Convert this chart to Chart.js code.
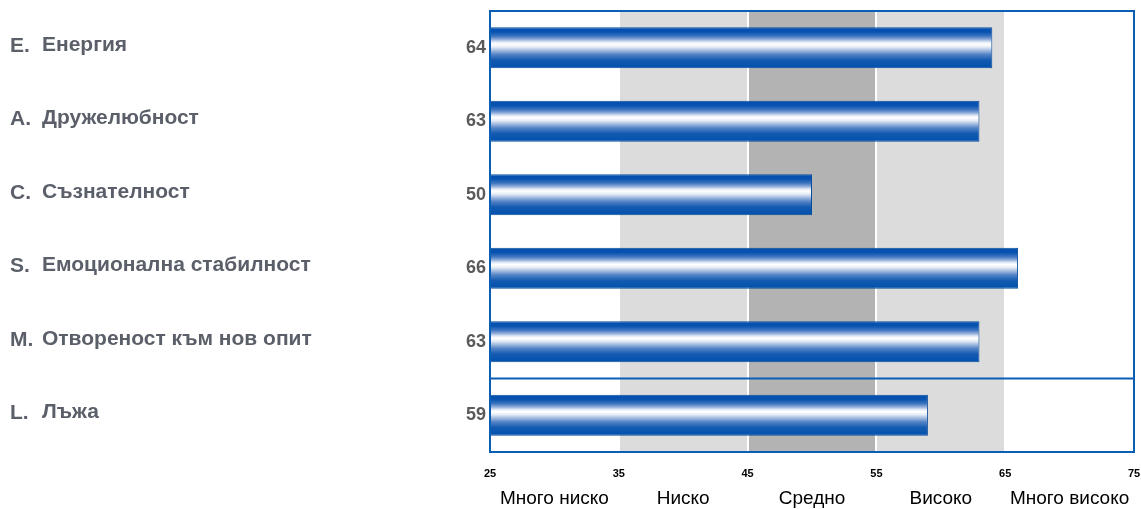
<!DOCTYPE html>
<html>
<head>
<meta charset="utf-8">
<script src="https://cdn.jsdelivr.net/npm/chart.js@4.4.1/dist/chart.umd.min.js"></script>
<style>
  html, body { margin: 0; padding: 0; background: #fff; }
  #wrap { width: 1141px; height: 509px; }
</style>
</head>
<body>
<div id="wrap"><canvas id="scaleChart"></canvas></div>
<script>
// scale data
const codes = ['E.', 'A.', 'C.', 'S.', 'M.', 'L.'];
const names = ['Енергия', 'Дружелюбност', 'Съзнателност', 'Емоционална стабилност', 'Отвореност към нов опит', 'Лъжа'];
const scores = [64, 63, 50, 66, 63, 59];
const tickValues = [25, 35, 45, 55, 65, 75];
const levelNames = ['Много ниско', 'Ниско', 'Средно', 'Високо', 'Много високо'];
const levelCenters = [30, 40, 50, 60, 70];
const bands = [
    { from: 35, to: 45, color: '#dcdcdc' },
    { from: 45, to: 55, color: '#b3b3b3' },
    { from: 55, to: 65, color: '#dcdcdc' }
];

function barGradient(context) {
    const chart = context.chart;
    const yScale = chart.scales.y;
    if (!yScale || context.dataIndex === undefined) return '#0050ac';
    const center = yScale.getPixelForValue(context.dataIndex);
    const step = Math.abs(yScale.getPixelForValue(1) - yScale.getPixelForValue(0));
    const h = step * 0.56 / 2;
    if (!isFinite(center) || !isFinite(h) || h === 0) return '#0050ac';
    const g = chart.ctx.createLinearGradient(0, center - h, 0, center + h);
    g.addColorStop(0, '#004fae');
    g.addColorStop(0.12, '#0853b0');
    g.addColorStop(0.22, '#3f76c0');
    g.addColorStop(0.3, '#93aedb');
    g.addColorStop(0.36, '#e0e8f5');
    g.addColorStop(0.41, '#ffffff');
    g.addColorStop(0.48, '#e8eef7');
    g.addColorStop(0.56, '#a9bfe2');
    g.addColorStop(0.66, '#5585c6');
    g.addColorStop(0.8, '#135ab1');
    g.addColorStop(1, '#0050ac');
    return g;
}

// no extra room for the outer tick labels
function noScalePadding(scale) {
    scale.paddingLeft = 0;
    scale.paddingRight = 0;
    scale.paddingTop = 0;
    scale.paddingBottom = 0;
}

const bandsPlugin = {
    id: 'bands',
    beforeDraw(chart) {
        const ctx = chart.ctx;
        const area = chart.chartArea;
        const x = chart.scales.x;
        ctx.save();
        bands.forEach(b => {
            const x1 = x.getPixelForValue(b.from);
            const x2 = x.getPixelForValue(b.to);
            ctx.fillStyle = b.color;
            ctx.fillRect(x1, area.top, x2 - x1, area.bottom - area.top);
        });
        ctx.restore();
    }
};

const framePlugin = {
    id: 'frame',
    afterDatasetsDraw(chart) {
        const ctx = chart.ctx;
        const area = chart.chartArea;
        const y = chart.scales.y;
        ctx.save();
        ctx.strokeStyle = '#0a5fb4';
        ctx.lineWidth = 2;
        ctx.strokeRect(area.left, area.top, area.right - area.left, area.bottom - area.top);
        // line above the lie scale
        const sep = (y.getPixelForValue(4) + y.getPixelForValue(5)) / 2;
        ctx.beginPath();
        ctx.moveTo(area.left, sep);
        ctx.lineTo(area.right, sep);
        ctx.stroke();
        ctx.restore();
    }
};

const namesPlugin = {
    id: 'names',
    afterDraw(chart) {
        const ctx = chart.ctx;
        const y = chart.scales.y;
        ctx.save();
        ctx.fillStyle = '#5a5f69';
        ctx.font = 'bold 21px "Liberation Sans", Arial, sans-serif';
        ctx.textBaseline = 'middle';
        ctx.textAlign = 'left';
        for (let i = 0; i < names.length; i++) {
            const py = y.getPixelForValue(i) - 3;
            ctx.fillText(codes[i], 10, py + 1);
            ctx.fillText(names[i], 42, py);
        }
        ctx.restore();
    }
};

new Chart(document.getElementById('scaleChart'), {
    type: 'bar',
    data: {
        labels: names,
        datasets: [{
            data: scores,
            backgroundColor: barGradient,
            borderColor: '#0a4c9c',
            borderWidth: 1,
            borderSkipped: false,
            barPercentage: 0.56,
            categoryPercentage: 1
        }]
    },
    options: {
        indexAxis: 'y',
        responsive: true,
        maintainAspectRatio: false,
        animation: false,
        layout: { padding: { top: 11, right: 7, left: 0, bottom: 0 } },
        plugins: {
            legend: { display: false },
            tooltip: { enabled: false }
        },
        scales: {
            y: {
                grid: { display: false, drawTicks: false },
                border: { display: false },
                ticks: {
                    padding: 4,
                    color: '#5a5a5a',
                    font: { family: '"Liberation Sans", Arial, sans-serif', size: 18, weight: 'bold' },
                    callback: (v, i) => String(scores[i])
                },
                afterFit(scale) {
                    scale.width = 490;
                    noScalePadding(scale);
                }
            },
            x: {
                min: 25,
                max: 75,
                weight: 0,
                grid: { color: '#ffffff', lineWidth: 2, drawTicks: false },
                border: { display: false },
                afterBuildTicks(scale) { scale.ticks = tickValues.map(v => ({ value: v })); },
                ticks: {
                    padding: 15,
                    color: '#000000',
                    maxRotation: 0,
                    autoSkip: false,
                    font: { family: '"Liberation Sans", Arial, sans-serif', size: 11, weight: 'bold' }
                },
                afterFit(scale) {
                    scale.height = 34;
                    noScalePadding(scale);
                }
            },
            x2: {
                type: 'linear',
                axis: 'x',
                position: 'bottom',
                min: 25,
                max: 75,
                weight: 1,
                grid: { display: false, drawTicks: false },
                border: { display: false },
                afterBuildTicks(scale) { scale.ticks = levelCenters.map(v => ({ value: v })); },
                ticks: {
                    padding: 1,
                    color: '#000000',
                    maxRotation: 0,
                    autoSkip: false,
                    font: { family: '"Liberation Sans", Arial, sans-serif', size: 19 },
                    callback: (v, i) => levelNames[i]
                },
                afterFit(scale) {
                    scale.height = 23;
                    noScalePadding(scale);
                }
            }
        }
    },
    plugins: [bandsPlugin, framePlugin, namesPlugin]
});
</script>
</body>
</html>
